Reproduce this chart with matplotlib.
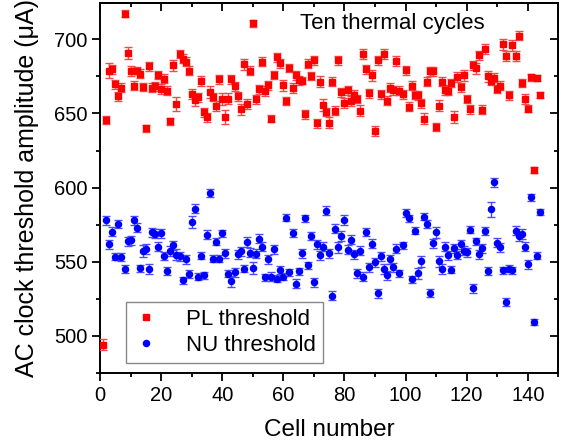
import matplotlib
matplotlib.use("Agg")
import matplotlib.pyplot as plt
from matplotlib.ticker import MultipleLocator

plt.rcParams['font.family'] = ['Liberation Sans', 'DejaVu Sans']

# ---------------- data ----------------
pl_cells = list(range(1, 145))
pl_values = [
    494.0, 645.6, 678.9, 680.0, 669.7, 661.6, 667.4, 717.5, 690.8, 678.9,
    668.8, 678.9, 676.9, 667.9, 640.0, 682.0, 667.4, 668.5, 676.0, 666.7,
    673.5, 665.4, 644.7, 682.5, 656.4, 690.1, 687.0, 685.0, 679.0, 663.0,
    659.1, 660.9, 671.9, 650.8, 647.4, 664.3, 661.1, 655.1, 673.0, 660.0,
    647.6, 660.0, 673.0, 668.3, 661.6, 652.8, 683.1, 656.4, 678.9, 710.8,
    659.6, 666.3, 685.0, 665.0, 669.0, 646.5, 676.0, 687.9, 683.8, 669.0,
    658.4, 680.7, 667.4, 675.7, 672.4, 672.2, 649.4, 683.6, 675.3, 686.0,
    643.4, 671.5, 655.7, 651.0, 643.8, 671.5, 651.9, 686.0, 664.3, 656.9,
    665.8, 658.4, 662.5, 659.8, 651.9, 690.1, 680.0, 663.6, 675.7, 638.2,
    686.0, 663.1, 690.3, 658.7, 667.4, 665.8, 685.4, 665.4, 663.0, 679.3,
    654.6, 668.8, 662.5, 662.2, 656.9, 646.5, 671.5, 678.4, 678.4, 640.9,
    655.3, 671.5, 665.8, 665.4, 670.6, 647.6, 674.8, 667.6, 675.7, 659.8,
    652.8, 682.5, 680.4, 689.4, 652.4, 693.5, 675.0, 671.9, 674.2, 666.5,
    668.8, 696.6, 689.0, 662.2, 696.0, 689.0, 702.5, 670.6, 659.8, 653.3,
    674.4, 612.0, 674.2, 662.5,
]
pl_errors = [
    3.5, 3.0, 5.0, 3.0, 3.0, 3.0, 3.0, 2.2, 4.3, 3.5,
    3.0, 2.5, 3.0, 3.0, 2.2, 3.0, 3.0, 3.0, 3.0, 3.5,
    3.0, 3.0, 2.5, 3.5, 5.0, 2.5, 3.0, 3.0, 3.0, 3.5,
    4.0, 3.0, 3.5, 3.0, 3.0, 4.0, 3.0, 3.5, 3.0, 4.0,
    5.0, 3.5, 3.0, 3.0, 3.0, 3.5, 3.5, 3.5, 3.0, 2.5,
    3.0, 3.0, 3.0, 3.5, 3.0, 2.5, 3.0, 3.0, 3.0, 3.5,
    3.0, 3.0, 3.5, 3.0, 3.0, 2.5, 3.0, 3.0, 3.0, 3.0,
    3.0, 3.5, 4.0, 3.0, 3.5, 3.0, 3.0, 3.0, 3.0, 3.5,
    3.0, 3.5, 3.5, 3.0, 3.5, 3.5, 3.0, 3.0, 3.5, 3.5,
    3.0, 3.0, 3.5, 3.0, 3.0, 3.0, 3.5, 3.0, 3.0, 3.0,
    3.0, 3.0, 3.0, 3.0, 3.0, 3.5, 3.0, 3.0, 3.0, 3.0,
    3.5, 3.0, 3.5, 3.0, 3.0, 4.0, 3.5, 3.0, 3.5, 3.0,
    3.0, 3.0, 3.5, 3.0, 3.0, 3.5, 3.5, 3.0, 3.0, 3.0,
    3.0, 3.5, 3.5, 3.0, 3.5, 3.5, 3.0, 3.0, 3.5, 2.5,
    2.5, 2.0, 2.0, 2.0,
]

nu_cells = list(range(2, 145))
nu_values = [
    577.8, 561.6, 570.1, 553.3, 575.3, 553.0, 544.9, 563.6, 564.3,
    577.8, 573.0, 545.4, 557.1, 558.4, 545.2, 569.7, 568.8, 560.2, 569.2,
    553.7, 543.6, 557.3, 561.1, 554.8, 553.7, 537.3, 551.7, 541.6, 576.6,
    585.6, 539.8, 554.0, 540.7, 568.1, 596.4, 552.1, 563.4, 552.1, 569.0,
    555.7, 541.8, 536.6, 542.7, 555.1, 557.1, 545.2, 563.1, 555.9, 545.4,
    555.3, 565.4, 560.2, 539.3, 551.7, 539.9, 558.4, 538.4, 544.3, 539.9,
    579.6, 542.7, 569.2, 535.1, 543.4, 555.7, 579.3, 547.4, 567.4, 536.0,
    561.8, 554.2, 560.2, 584.3, 555.7, 526.9, 572.1, 559.6, 567.4, 578.2,
    558.0, 564.7, 555.1, 542.2, 557.5, 539.9, 570.1, 546.1, 562.0, 549.4,
    528.5, 553.5, 545.2, 540.9, 551.7, 546.1, 558.7, 542.0, 561.0, 582.7,
    579.3, 538.0, 571.0, 542.0, 550.1, 580.4, 575.5, 528.9, 562.5, 569.7,
    550.1, 544.9, 560.2, 554.2, 544.5, 558.9, 554.4, 561.6, 557.5, 556.2,
    571.5, 531.9, 563.6, 555.1, 558.9, 570.8, 543.6, 585.4, 603.6, 562.9,
    559.8, 544.0, 522.7, 545.2, 544.0, 570.8, 567.0, 568.5, 560.0, 548.3,
    593.3, 509.2, 554.0, 583.4,
]
nu_errors = [
    3.0, 3.0, 3.0, 2.5, 2.5, 2.5, 2.5, 3.0, 3.0,
    3.0, 3.0, 2.5, 4.0, 3.5, 3.5, 3.0, 3.0, 3.0, 3.0,
    2.5, 2.5, 3.5, 3.0, 3.5, 3.0, 2.5, 3.0, 2.5, 4.0,
    3.0, 2.5, 2.5, 2.5, 3.0, 2.5, 2.5, 2.5, 2.5, 2.5,
    3.0, 2.5, 4.0, 3.0, 3.0, 3.0, 2.5, 3.5, 3.0, 4.0,
    3.0, 3.0, 3.0, 2.5, 3.0, 3.0, 3.0, 2.5, 2.5, 2.5,
    2.5, 2.5, 2.5, 3.0, 2.5, 3.0, 2.5, 2.5, 2.5, 3.0,
    3.0, 3.0, 3.0, 3.0, 3.0, 3.0, 3.0, 3.5, 3.5, 3.5,
    3.0, 3.0, 3.0, 3.0, 3.0, 3.0, 2.5, 3.0, 3.0, 3.0,
    3.0, 3.0, 3.5, 3.0, 3.0, 3.0, 3.0, 2.5, 2.5, 2.5,
    2.5, 2.5, 2.5, 3.5, 3.5, 2.5, 2.5, 2.5, 3.0, 3.5,
    3.5, 3.5, 3.0, 3.0, 2.5, 3.0, 2.5, 3.0, 3.0, 3.0,
    2.5, 3.0, 2.5, 3.0, 3.0, 2.5, 2.5, 5.0, 3.0, 3.0,
    3.0, 2.5, 3.0, 2.5, 2.5, 3.0, 3.0, 3.5, 3.0, 3.0,
    2.5, 2.0, 2.5, 2.0,
]

x_label = "Cell number"
y_label = "AC clock threshold amplitude (\u03bcA)"
annotation = "Ten thermal cycles"
series_names = ["PL threshold", "NU threshold"]

# ---------------- figure ----------------
W, H = 562, 444
fig = plt.figure(figsize=(W / 100, H / 100), dpi=100)
ax = fig.add_axes([99.5 / W, 1 - 372.7 / H, (558.3 - 99.5) / W, (372.7 - 2.7) / H])

red = "#FF0000"
blue = "#0000FF"

ax.errorbar(pl_cells, pl_values, yerr=pl_errors, fmt='s', color=red, ms=3.9,
            mec=red, ecolor="#F24A4A", elinewidth=1.0, capsize=2.6, capthick=1.0,
            label=series_names[0], zorder=3)
ax.errorbar(nu_cells, nu_values, yerr=nu_errors, fmt='o', color=blue, ms=4.4,
            mec=blue, ecolor="#4D4DFF", elinewidth=1.0, capsize=2.6, capthick=1.0,
            label=series_names[1], zorder=3)

ax.set_xlim(-0.2, 150)
ax.set_ylim(475, 724.8)
ax.xaxis.set_major_locator(MultipleLocator(20))
ax.xaxis.set_minor_locator(MultipleLocator(10))
ax.yaxis.set_major_locator(MultipleLocator(50))
ax.yaxis.set_minor_locator(MultipleLocator(25))

for s in ax.spines.values():
    s.set_linewidth(1.4)

ax.tick_params(which='both', direction='out', width=1.3, labelsize=14.5,
               top=False, right=False)
ax.tick_params(which='major', length=5.5)
ax.tick_params(which='minor', length=3)
ax.tick_params(axis='x', pad=4)
ax.tick_params(axis='y', pad=3)

# mirrored ticks on top / right, pointing inward
axt = ax.secondary_xaxis('top')
axt.xaxis.set_major_locator(MultipleLocator(20))
axt.xaxis.set_minor_locator(MultipleLocator(10))
axt.tick_params(which='both', direction='in', width=1.3, labeltop=False)
axt.tick_params(which='major', length=5.5)
axt.tick_params(which='minor', length=3)
axr = ax.secondary_yaxis('right')
axr.yaxis.set_major_locator(MultipleLocator(50))
axr.yaxis.set_minor_locator(MultipleLocator(25))
axr.tick_params(which='both', direction='in', width=1.3, labelright=False)
axr.tick_params(which='major', length=5.5)
axr.tick_params(which='minor', length=3)
for sax in (axt, axr):
    for s in sax.spines.values():
        s.set_linewidth(1.4)

ax.set_xlabel(x_label, fontsize=17.5, labelpad=10)
ax.set_ylabel(y_label, fontsize=18, labelpad=11)

fig.text(300 / W, 1 - 23 / H, annotation, fontsize=16, ha='left', va='center')

leg_handles = [plt.Line2D([], [], ls='none', marker='s', color=red, ms=4.2),
               plt.Line2D([], [], ls='none', marker='o', color=blue, ms=4.4)]
leg = ax.legend(leg_handles, series_names, loc='upper left',
                bbox_to_anchor=(126 / W, 1 - 302 / H), bbox_transform=fig.transFigure,
                fontsize=16, frameon=True, fancybox=False, edgecolor="#888888",
                framealpha=1.0, handlelength=1.2, handletextpad=1.2,
                borderpad=0.3, labelspacing=0.25, borderaxespad=0)
leg.get_frame().set_linewidth(1.0)

fig.savefig("out.png", dpi=100)
